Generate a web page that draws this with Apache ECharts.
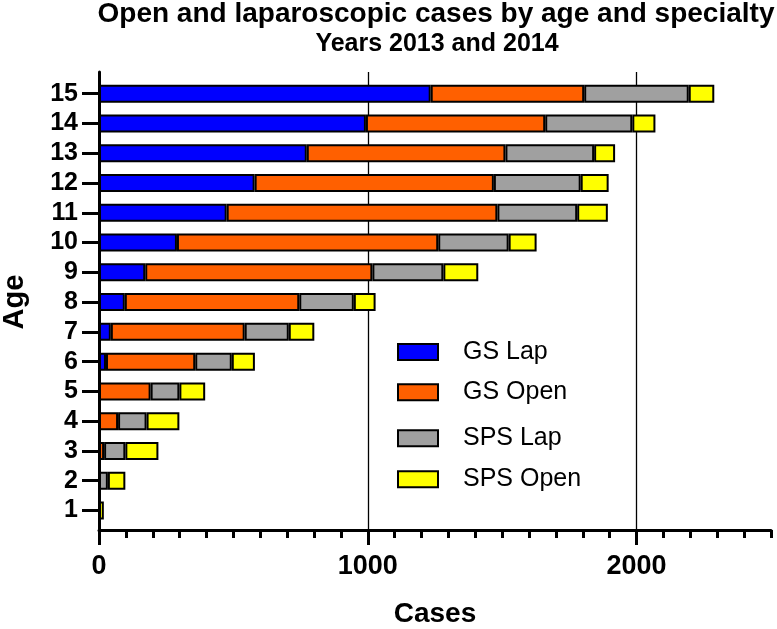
<!DOCTYPE html>
<html><head><meta charset="utf-8">
<script src="https://cdn.jsdelivr.net/npm/echarts@6/dist/echarts.min.js"></script>
<style>html,body{margin:0;padding:0;background:#fff}#c{width:777px;height:629px}</style>
</head><body><div id="c"></div>
<script>
const ages = ['1','2','3','4','5','6','7','8','9','10','11','12','13','14','15'];
const gsLap   = [0, 0, 0, 0, 0, 26, 44, 96, 172, 290, 475, 579, 773, 993, 1234];
const gsOpen  = [0, 0, 19, 71, 192, 332, 498, 649, 845, 972, 1007, 890, 739, 667, 571];
const spsLap  = [0, 33, 79, 106, 107, 136, 164, 203, 264, 262, 297, 323, 330, 324, 389];
const spsOpen = [18, 65, 123, 122, 96, 86, 95, 81, 130, 104, 114, 104, 78, 86, 95];
const seriesNames = ['GS Lap', 'GS Open', 'SPS Lap', 'SPS Open'];
const seriesColors = ['#0000FF', '#FF6000', '#A0A0A0', '#FFFF00'];
const xMax = 2500;
const xMajorMax = 2000;

const FONT = 'Liberation Sans, Arial, sans-serif';
const chart = echarts.init(document.getElementById('c'), null, {renderer: 'canvas'});
const values = [gsLap, gsOpen, spsLap, spsOpen];
const legendCenters = [352.5, 392.7, 438.7, 479.7];

const option = {
  animation: false,
  backgroundColor: '#fff',
  title: [
    {text: 'Open and laparoscopic cases by age and specialty', left: 436, top: 0, textAlign: 'center', padding: 0,
     textStyle: {fontFamily: FONT, fontWeight: 'bold', fontSize: 28, color: '#000'}},
    {text: 'Years 2013 and 2014', left: 437, top: 32, textAlign: 'center', padding: 0,
     textStyle: {fontFamily: FONT, fontWeight: 'bold', fontSize: 25, color: '#000'}}
  ],
  legend: seriesNames.map((n, i) => ({
    data: [n], left: 397, top: legendCenters[i] - 13, padding: 0, orient: 'vertical',
    itemWidth: 40, itemHeight: 16, icon: 'rect', selectedMode: false,
    textStyle: {fontFamily: FONT, fontSize: 25, color: '#000', padding: [0, 0, 0, 20]}
  })),
  grid: [
    {left: 99, right: 6, top: 72, bottom: 99, outerBoundsMode: 'none', containLabel: false},
    {left: 99, right: 140.4, top: 72, bottom: 99, outerBoundsMode: 'none', containLabel: false},
    {left: 99, right: 6, top: 78.8, bottom: 103.6, outerBoundsMode: 'none', containLabel: false}
  ],
  xAxis: [
    {type: 'value', gridIndex: 0, min: 0, max: xMax, interval: 100,
     axisLine: {show: true, onZero: false, lineStyle: {color: '#000', width: 3}},
     axisTick: {show: true, length: 8, lineStyle: {color: '#000', width: 3}},
     axisLabel: {show: false}, splitLine: {show: false},
     name: 'Cases', nameLocation: 'middle', nameGap: 70,
     nameTextStyle: {fontFamily: FONT, fontWeight: 'bold', fontSize: 28, color: '#000'}},
    {type: 'value', gridIndex: 1, min: 0, max: xMajorMax, interval: 1000,
     axisLine: {show: false},
     axisTick: {show: true, length: 15, lineStyle: {color: '#000', width: 3}},
     axisLabel: {show: true, margin: 23, fontFamily: FONT, fontWeight: 'bold', fontSize: 27, color: '#000',
                 formatter: v => String(v)},
     splitLine: {show: true, lineStyle: {color: '#000', width: 1.3}}},
    {type: 'value', gridIndex: 2, min: 0, max: xMax, show: false}
  ],
  yAxis: [
    {type: 'value', gridIndex: 0, min: 0, max: 1,
     axisLine: {show: true, onZero: false, lineStyle: {color: '#000', width: 3}},
     axisTick: {show: false}, axisLabel: {show: false}, splitLine: {show: false}},
    {type: 'value', gridIndex: 1, min: 0, max: 1, show: false},
    {type: 'category', gridIndex: 2, data: ages,
     axisLine: {show: false},
     axisTick: {show: true, alignWithLabel: true, interval: 0, length: 17, lineStyle: {color: '#000', width: 3}},
     axisLabel: {interval: 0, margin: 21, fontFamily: FONT, fontWeight: 'bold', fontSize: 25, color: '#000'},
     splitLine: {show: false},
     name: 'Age', nameLocation: 'middle', nameGap: 70, nameRotate: 90,
     nameTextStyle: {fontFamily: FONT, fontWeight: 'bold', fontSize: 29, color: '#000'}}
  ],
  series: seriesNames.map((n, i) => ({
    name: n, type: 'bar', stack: 'total', xAxisIndex: 2, yAxisIndex: 2,
    barWidth: 18, data: values[i],
    itemStyle: {color: seriesColors[i], borderColor: '#000', borderWidth: 2}
  }))
};
chart.setOption(option);
</script></body></html>
